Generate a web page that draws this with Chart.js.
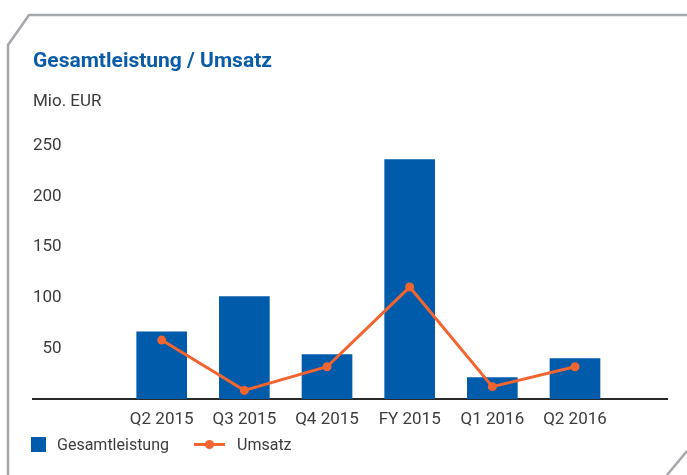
<!DOCTYPE html>
<html>
<head>
<meta charset="utf-8">
<script src="https://cdn.jsdelivr.net/npm/chart.js@4.4.1/dist/chart.umd.min.js"></script>
<style>
    html, body { margin: 0; padding: 0; background: #fff; }
    #wrap { position: relative; width: 687px; height: 475px; }
    #legend {
        position: absolute; left: 31px; top: 435px;
        display: flex; align-items: center;
        font-family: Roboto, sans-serif; font-size: 16px; color: #3c3c3c;
    }
    .box { width: 15px; height: 15px; background: #005baa; margin-right: 11px; }
    .ln { position: relative; width: 31px; height: 3px; background: #f26430; margin: 0 12px 0 25px; }
    .ln::after {
        content: ''; position: absolute; left: 11px; top: -3px;
        width: 9px; height: 9px; border-radius: 50%; background: #f26430;
    }
</style>
</head>
<body>
<div id="wrap">
    <canvas id="graphic__umsatz" width="687" height="475"></canvas>
    <div id="legend">
        <span class="box"></span><span>Gesamtleistung</span>
        <span class="ln"></span><span>Umsatz</span>
    </div>
</div>
<script>
const categories = ['Q2 2015', 'Q3 2015', 'Q4 2015', 'FY 2015', 'Q1 2016', 'Q2 2016'];
const gesamtleistung = [66.4, 101.0, 43.8, 236.2, 21.2, 39.9];
const umsatz = [58.2, 8.6, 31.9, 110.5, 12.3, 31.9];
const yTicks = [50, 100, 150, 200, 250];

const textColor = '#3c3c3c';

// gray frame with cut corners around the figure
const framePlugin = {
    id: 'frame',
    beforeDraw(chart) {
        const { ctx, width, height } = chart;
        ctx.save();
        ctx.strokeStyle = '#a4a8ad';
        ctx.lineWidth = 2.5;
        ctx.beginPath();
        ctx.moveTo(width, 15);
        ctx.lineTo(29, 15);
        ctx.lineTo(8, 45);
        ctx.lineTo(8, height);
        ctx.moveTo(width - 20, height);
        ctx.lineTo(width, height - 24);
        ctx.stroke();
        ctx.restore();
    }
};

const ctx = document.querySelector('#graphic__umsatz').getContext('2d');

const config = {
    type: 'bar',
    data: {
        datasets: [
            {
                type: 'line',
                label: 'Umsatz',
                data: categories.map((c, i) => ({ x: i + 1, y: umsatz[i] })),
                borderColor: '#f26430',
                backgroundColor: '#f26430',
                borderWidth: 3,
                pointRadius: 4.5,
                pointBorderWidth: 0,
                tension: 0,
                order: 0
            },
            {
                label: 'Gesamtleistung',
                data: categories.map((c, i) => ({ x: i + 1, y: gesamtleistung[i] })),
                backgroundColor: '#005baa',
                barThickness: 50,
                order: 1
            }
        ]
    },
    options: {
        responsive: false,
        animation: false,
        layout: {
            padding: { left: 33, right: 20, top: 0, bottom: 35.5 }
        },
        plugins: {
            legend: { display: false },
            tooltip: { enabled: false },
            title: {
                display: true,
                text: 'Gesamtleistung / Umsatz',
                align: 'start',
                color: '#0a5ca8',
                font: { family: 'Roboto', size: 21, weight: 'bold' },
                padding: { top: 49, bottom: 0 }
            },
            subtitle: {
                display: true,
                text: 'Mio. EUR',
                align: 'start',
                color: textColor,
                font: { family: 'Roboto', size: 17 },
                padding: { top: 17, bottom: 34 }
            }
        },
        scales: {
            x: {
                type: 'linear',
                bounds: 'data',
                offset: false,
                min: -0.557,
                max: 7.113,
                afterBuildTicks: (axis) => {
                    axis.ticks = categories.map((c, i) => ({ value: i + 1 }));
                },
                grid: { display: false, drawTicks: false, offset: false },
                border: { display: true, color: '#2a2a2a', width: 2 },
                ticks: {
                    autoSkip: false,
                    maxRotation: 0,
                    padding: 10,
                    color: textColor,
                    font: { family: 'Roboto', size: 17 },
                    callback: (v) => categories[v - 1]
                }
            },
            y: {
                min: 0,
                max: 250,
                afterBuildTicks: (axis) => {
                    axis.ticks = yTicks.map((v) => ({ value: v }));
                },
                grid: { display: false, drawTicks: false },
                border: { display: false },
                ticks: {
                    mirror: true,
                    crossAlign: 'far',
                    padding: 0,
                    color: textColor,
                    font: { family: 'Roboto', size: 17 }
                }
            }
        }
    },
    plugins: [framePlugin]
};

const myChart = new Chart(ctx, config);
</script>
</body>
</html>
